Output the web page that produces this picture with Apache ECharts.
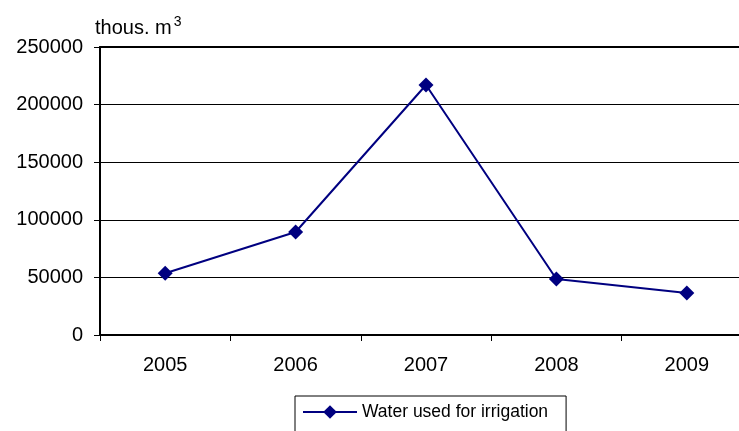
<!DOCTYPE html>
<html><head><meta charset="utf-8">
<script src="https://cdn.jsdelivr.net/npm/echarts@6/dist/echarts.min.js"></script>
<style>html,body{margin:0;padding:0;background:#fff;overflow:hidden}#c{width:760px;height:431px}</style>
</head><body><div id="c"></div>
<script>
const years = ['2005', '2006', '2007', '2008', '2009'];
const waterIrrigation = [53600, 89400, 217000, 48600, 36500];
const seriesName = 'Water used for irrigation';
const yMin = 0, yMax = 250000, yStep = 50000;

const chart = echarts.init(document.getElementById('c'), null, {renderer: 'canvas'});
const font = '"Liberation Sans", Arial, sans-serif';
chart.setOption({
  animation: false,
  backgroundColor: '#fff',
  grid: {left: 100, top: 47, right: 8, bottom: 96, containLabel: false},
  legend: {
    show: true,
    left: 295, top: 396,
    padding: [7, 18, 20, 7],
    borderColor: '#000', borderWidth: 1,
    itemWidth: 54, itemHeight: 17, itemGap: 6,
    textStyle: {fontFamily: font, fontSize: 17.5, color: '#000'},
    data: [seriesName]
  },
  xAxis: [{
    type: 'category',
    data: years,
    boundaryGap: true,
    axisLine: {lineStyle: {color: '#000', width: 2}},
    axisTick: {show: true, alignWithLabel: false, length: 6, lineStyle: {color: '#000', width: 1}},
    axisLabel: {fontFamily: font, fontSize: 20, color: '#000', margin: 20},
    splitLine: {show: false}
  }, {
    type: 'category',
    data: years,
    position: 'top',
    axisLine: {show: true, lineStyle: {color: '#000', width: 2}},
    axisTick: {show: false}, axisLabel: {show: false}
  }],
  yAxis: {
    type: 'value',
    min: yMin, max: yMax, interval: yStep,
    name: 'thous. m{s|3}',
    nameLocation: 'end',
    nameGap: 6,
    nameTextStyle: {
      fontFamily: font, fontSize: 20, color: '#000', align: 'left', padding: [0, 0, 0, -5],
      rich: {s: {fontFamily: font, fontSize: 14, color: '#000', verticalAlign: 'top', padding: [0, 0, 12, 2]}}
    },
    axisLine: {show: true, lineStyle: {color: '#000', width: 2}},
    axisTick: {show: true, length: 6, lineStyle: {color: '#000', width: 1}},
    axisLabel: {fontFamily: font, fontSize: 20, color: '#000', margin: 17, formatter: v => String(v)},
    splitLine: {show: true, lineStyle: {color: '#000', width: 1}}
  },
  series: [{
    name: seriesName,
    type: 'line',
    data: waterIrrigation,
    symbol: 'diamond',
    symbolSize: 15,
    itemStyle: {color: '#000080'},
    lineStyle: {color: '#000080', width: 2}
  }]
});
</script></body></html>
